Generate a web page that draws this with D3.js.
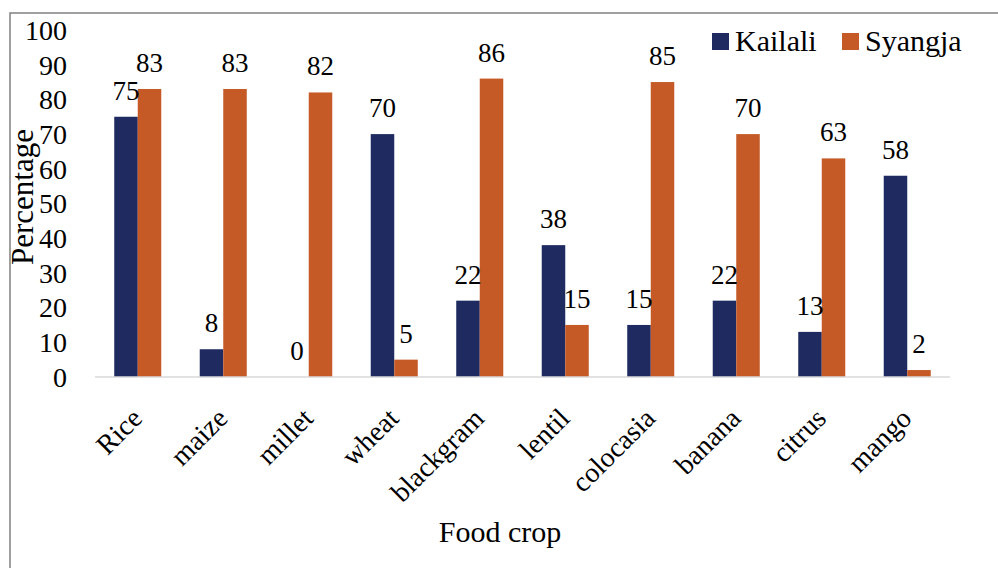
<!DOCTYPE html>
<html>
<head>
<meta charset="utf-8">
<script src="https://cdn.jsdelivr.net/npm/d3@7"></script>
<style>
  html, body { margin: 0; padding: 0; background: #fff; }
  svg { display: block; }
  svg text { font-family: "Liberation Serif", "Times New Roman", serif; }
</style>
</head>
<body>
<svg id="chart" width="998" height="568"></svg>
<script>
const categories = ["Rice", "maize", "millet", "wheat", "blackgram", "lentil", "colocasia", "banana", "citrus", "mango"];
const kailali = [75, 8, 0, 70, 22, 38, 15, 22, 13, 58];
const syangja = [83, 83, 82, 5, 86, 15, 85, 70, 63, 2];
const seriesNames = ["Kailali", "Syangja"];
const seriesColors = ["#1f2a60", "#c55a26"];
const yTicks = [0, 10, 20, 30, 40, 50, 60, 70, 80, 90, 100];

const svg = d3.select("#chart");

// outer border
svg.append("rect")
  .attr("x", 10).attr("y", 13)
  .attr("width", 1100).attr("height", 700)
  .attr("fill", "none").attr("stroke", "#808080").attr("stroke-width", 1.5);

const x0 = d3.scaleBand().domain(categories).range([95, 950]).paddingInner(0.45).paddingOuter(0.225);
const x1 = d3.scaleBand().domain(seriesNames).range([0, x0.bandwidth()]);
const y = d3.scaleLinear().domain([0, 100]).range([377, 30]);

const data = categories.map((c, i) => ({ cat: c, vals: [kailali[i], syangja[i]] }));

// y tick labels
svg.append("g").selectAll("text").data(yTicks).join("text")
  .attr("x", 67).attr("y", d => y(d)).attr("dy", "0.35em")
  .attr("text-anchor", "end").attr("font-size", 28).attr("fill", "#000")
  .text(d => d);

// bars
const groups = svg.append("g").selectAll("g").data(data).join("g")
  .attr("transform", d => `translate(${x0(d.cat)},0)`);

groups.selectAll("rect").data(d => d.vals.map((v, j) => ({ v, s: seriesNames[j], j }))).join("rect")
  .attr("x", d => x1(d.s)).attr("width", x1.bandwidth())
  .attr("y", d => y(d.v)).attr("height", d => y(0) - y(d.v))
  .attr("fill", d => seriesColors[d.j]);

groups.selectAll("text").data(d => d.vals.map((v, j) => ({ v, s: seriesNames[j], j }))).join("text")
  .attr("x", d => x1(d.s) + x1.bandwidth() / 2)
  .attr("y", d => y(d.v) - 17)
  .attr("text-anchor", "middle").attr("font-size", 27).attr("fill", "#000")
  .text(d => d.v);

// x axis line
svg.append("line")
  .attr("x1", 95).attr("x2", 950).attr("y1", y(0)).attr("y2", y(0))
  .attr("stroke", "#d9d9d9").attr("stroke-width", 1.5);

// x tick labels
svg.append("g").selectAll("text").data(categories).join("text")
  .attr("transform", d => `translate(${x0(d) + x0.bandwidth() / 2 + 6},${420}) rotate(-45)`)
  .attr("text-anchor", "end").attr("font-size", 28).attr("fill", "#000")
  .text(d => d);

// axis titles
svg.append("text")
  .attr("x", 500).attr("y", 542).attr("text-anchor", "middle")
  .attr("font-size", 30).attr("fill", "#000").text("Food crop");

svg.append("text")
  .attr("transform", "translate(33,197) rotate(-90)")
  .attr("text-anchor", "middle").attr("font-size", 31).attr("fill", "#000").text("Percentage");

// legend
const legendX = [712, 842];
const leg = svg.append("g").selectAll("g").data(seriesNames).join("g")
  .attr("transform", (d, i) => `translate(${legendX[i]},33)`);
leg.append("rect").attr("width", 17).attr("height", 17).attr("fill", (d, i) => seriesColors[i]);
leg.append("text").attr("x", 23).attr("y", 18).attr("font-size", 30).attr("fill", "#000").text(d => d);
</script>
</body>
</html>
